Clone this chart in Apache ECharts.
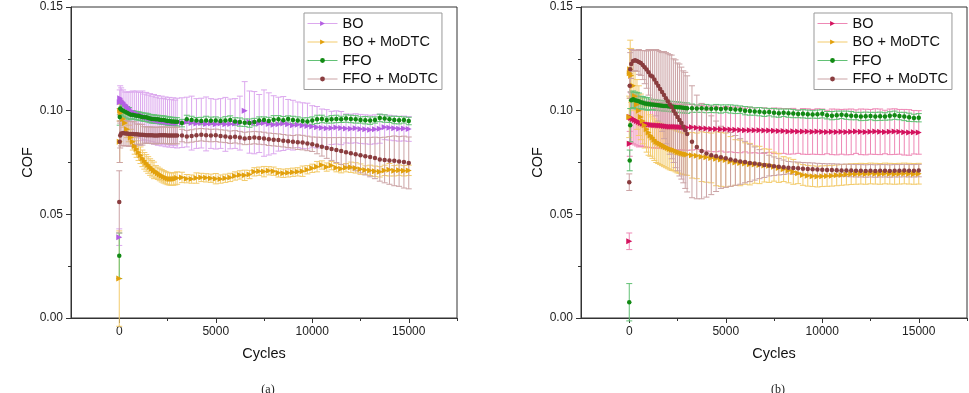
<!DOCTYPE html>
<html>
<head>
<meta charset="utf-8">
<script src="https://cdn.jsdelivr.net/npm/echarts@6/dist/echarts.min.js"></script>
<style>
  html, body { margin: 0; padding: 0; background: #fff; }
  #chart { width: 969px; height: 393px; }
</style>
</head>
<body>
<div id="chart"></div>
<script>
// 横轴：循环次数
const cycles = [
  0, 25, 50, 100, 200, 300, 400, 500, 600, 700, 800, 900, 1000,
  1100, 1200, 1300, 1400, 1500, 1600, 1700, 1800, 1900, 2000,
  2100, 2200, 2300, 2400, 2500, 2600, 2700, 2800, 2900, 3000,
  3250, 3500, 3750, 4000, 4250, 4500, 4750, 5000, 5250, 5500, 5750, 6000,
  6250, 6500, 6750, 7000, 7250, 7500, 7750, 8000, 8250, 8500, 8750, 9000,
  9250, 9500, 9750, 10000, 10250, 10500, 10750, 11000, 11250, 11500, 11750, 12000,
  12250, 12500, 12750, 13000, 13250, 13500, 13750, 14000, 14250, 14500, 14750, 15000
]
const xTickLabels = [0, 5000, 10000, 15000]
const xMinorTicks = [2500, 7500, 12500, 17500]
const seriesNames = ['BO', 'BO + MoDTC', 'FFO', 'FFO + MoDTC']

// (a) 图
const aBO = [
  .039, .104, .106, .105, .104, .103, .102, .101, .100, .0995, .099, .0985, .098,
  .0978, .0975, .097, .0968, .0965, .0962, .096, .0958, .0955, .0953,
  .095, .095, .0948, .0946, .0945, .0944, .0943, .0942, .0941, .094,
  .0942, .0945, .0940, .0938, .0940, .0936, .0938, .0935, .0938, .0934, .0936, .0938,
  .0940, .1000, .0945, .0942, .0938, .0940, .0936, .0932, .0935, .0938, .0934, .0930,
  .0932, .0928, .0926, .0924, .0920, .0918, .0915, .0917, .0919, .0916, .0914, .0913,
  .0915, .0912, .0910, .0908, .0910, .0913, .0920, .0918, .0915, .0913, .0914, .0912
]
const aBOErr = [
  .004, .006, .006, .006, .006, .006, .007, .008, .009, .010, .010, .011, .011,
  .011, .012, .011, .012, .011, .012, .011, .012, .011, .012,
  .011, .012, .011, .012, .011, .012, .011, .012, .011, .012,
  .012, .012, .013, .012, .012, .013, .012, .012, .012, .013, .012, .012,
  .013, .014, .015, .015, .014, .016, .015, .014, .013, .013, .012, .012,
  .011, .011, .011, .010, .010, .009, .009, .008, .008, .008, .007, .007,
  .007, .007, .007, .007, .007, .007, .006, .006, .006, .006, .006, .006
]
const aBOM = [
  .019, .085, .100, .099, .096, .094, .091, .089, .087, .085, .083, .0815, .080,
  .0785, .077, .0758, .0748, .0738, .0728, .072, .0712, .0705, .0698,
  .0692, .0686, .0681, .0677, .0673, .0671, .0670, .0670, .0672, .0675,
  .0678, .0672, .0670, .0675, .0678, .0676, .0674, .0672, .0670, .0674, .0678, .0685,
  .0690, .0688, .0692, .0705, .0708, .0706, .0710, .0708, .0700, .0698, .0700, .0703,
  .0705, .0708, .0715, .0722, .0730, .0738, .0728, .0735, .0725, .0720, .0725, .0727,
  .0724, .0718, .0714, .0712, .0708, .0705, .0712, .0715, .0710, .0713, .0710, .0712
]
const aBOMErr = [
  .023, .010, .005, .004, .004, .004, .004, .004, .004, .004, .004, .004, .004,
  .004, .004, .004, .004, .004, .004, .004, .004, .003, .003,
  .003, .003, .003, .003, .003, .003, .003, .003, .003, .003,
  .0025, .002, .002, .0025, .002, .002, .002, .0025, .002, .002, .002, .002,
  .002, .0025, .002, .002, .002, .0025, .002, .002, .002, .002, .002, .002,
  .002, .0025, .002, .002, .0025, .002, .002, .002, .002, .002, .002, .0025,
  .0025, .0025, .002, .0025, .0025, .0025, .0025, .003, .0025, .0025, .0025, .0025
]
const aFFO = [
  .030, .097, .101, .1005, .100, .0995, .099, .0985, .098, .098, .0978, .0975, .0975,
  .0972, .097, .0968, .0968, .0965, .0962, .096, .096, .0958, .0958,
  .0956, .0955, .0955, .0953, .095, .095, .0948, .0948, .0947, .0946,
  .0940, .0958, .0955, .0952, .0950, .0953, .0951, .0952, .0950, .0953, .0955, .0948,
  .0945, .0942, .0940, .0945, .0952, .0955, .0950, .0956, .0958, .0954, .0960, .0955,
  .0952, .0950, .0948, .0952, .0958, .0960, .0955, .0958, .0960, .0958, .0962, .0960,
  .0958, .0955, .0954, .0952, .0955, .0965, .0962, .0958, .0955, .0954, .0955, .0950
]
const aFFOErr = [
  .011, .004, .003, .003, .003, .003, .003, .003, .002, .002, .002, .002, .002,
  .002, .002, .002, .002, .002, .002, .002, .002, .002, .002,
  .002, .002, .002, .002, .002, .002, .002, .002, .002, .002,
  .0018, .002, .0018, .0015, .0018, .002, .0018, .0018, .0015, .0018, .002, .0018,
  .002, .0018, .002, .0018, .0018, .0015, .0018, .002, .0018, .0018, .0015, .0018,
  .0018, .0015, .0018, .0018, .002, .0018, .0015, .0018, .0018, .0015, .0018, .0018,
  .0018, .0015, .0018, .0018, .0015, .0018, .0018, .0015, .0018, .0018, .0015, .0018
]
const aFFOM = [
  .056, .085, .088, .089, .0892, .0890, .0890, .0888, .0888, .0887, .0886, .0886, .0885,
  .0884, .0884, .0883, .0882, .0882, .0882, .0881, .0880, .0880, .0880,
  .0881, .0882, .0882, .0881, .0880, .0880, .0880, .0880, .0880, .0880,
  .0880, .0875, .0878, .0882, .0884, .0882, .0880, .0881, .0878, .0876, .0872, .0874,
  .0870, .0866, .0868, .0870, .0868, .0866, .0862, .0860, .0858, .0855, .0852, .0850,
  .0848, .0846, .0842, .0838, .0832, .0826, .0820, .0815, .0810, .0806, .0800, .0795,
  .0790, .0785, .0780, .0776, .0772, .0765, .0762, .0760, .0758, .0755, .0752, .0748
]
const aFFOMErr = [
  .015, .010, .006, .006, .006, .006, .006, .006, .006, .006, .006, .005, .005,
  .005, .005, .004, .004, .004, .004, .004, .004, .004, .004,
  .004, .004, .004, .004, .004, .004, .004, .004, .004, .004,
  .003, .003, .003, .003, .003, .003, .003, .003, .003, .003, .003, .003,
  .003, .003, .003, .003, .003, .003, .003, .003, .003, .003, .003, .003,
  .0035, .0035, .0035, .0035, .004, .0045, .005, .0055, .006, .0065, .007, .0075,
  .008, .0085, .009, .0095, .010, .0105, .011, .0115, .012, .012, .0125, .0125
]

// (b) 图
const bBO = [
  .037, .084, .097, .0965, .096, .0955, .095, .0945, .094, .0937, .0935, .0934, .0933,
  .0932, .0931, .093, .093, .0929, .0928, .0927, .0926, .0925, .0924,
  .0923, .0923, .0922, .0922, .0921, .0921, .092, .092, .0919, .0919,
  .0920, .0918, .0915, .0914, .0912, .0912, .0910, .0910, .0909, .0908, .0907, .0906,
  .0906, .0905, .0905, .0904, .0904, .0903, .0902, .0902, .0900, .0901, .0899, .0900,
  .0899, .0898, .0899, .0898, .0897, .0898, .0897, .0898, .0897, .0898, .0899, .0898,
  .0897, .0898, .0899, .0898, .0897, .0898, .0899, .0898, .0896, .0895, .0896, .0895
]
const bBOErr = [
  .004, .006, .012, .012, .012, .012, .012, .012, .011, .011, .011, .011, .011,
  .011, .011, .011, .011, .011, .011, .011, .011, .011, .011,
  .011, .011, .011, .011, .011, .011, .011, .011, .011, .011,
  .011, .0105, .011, .0108, .011, .011, .0105, .011, .0108, .011, .011, .0105,
  .011, .0108, .011, .011, .0105, .011, .011, .0108, .011, .011, .0105, .011,
  .011, .0108, .011, .011, .0105, .011, .011, .0108, .011, .011, .0105, .011,
  .011, .0108, .011, .011, .0105, .011, .011, .0108, .011, .011, .0105, .0105
]
const bBOM = [
  .097, .118, .120, .117, .112, .107, .103, .100, .097, .095, .093, .091, .0895,
  .088, .087, .086, .085, .0845, .084, .0835, .083, .0825, .082,
  .0815, .0812, .081, .0805, .080, .0798, .0795, .0792, .079, .0788,
  .0785, .0782, .0778, .0775, .0772, .0768, .0765, .0762, .0755, .0750, .0748, .0745,
  .0742, .0740, .0738, .0736, .0734, .0730, .0724, .0718, .0712, .0705, .0698, .0690,
  .0686, .0684, .0682, .0684, .0685, .0686, .0688, .0690, .0692, .0694, .0695, .0696,
  .0695, .0697, .0696, .0695, .0697, .0696, .0695, .0696, .0697, .0696, .0695, .0696
]
const bBOMErr = [
  .010, .012, .014, .013, .012, .012, .012, .012, .011, .011, .011, .011, .011,
  .010, .010, .010, .010, .010, .010, .010, .010, .010, .010,
  .010, .010, .010, .010, .010, .010, .010, .010, .010, .010,
  .011, .011, .012, .012, .012, .013, .013, .013, .012, .011, .011, .010,
  .010, .009, .009, .008, .008, .007, .007, .006, .006, .006, .005, .005,
  .005, .005, .005, .005, .005, .005, .005, .005, .005, .005, .005, .005,
  .005, .005, .005, .005, .005, .005, .005, .005, .005, .005, .005, .005
]
const bFFO = [
  .0076, .076, .093, .105, .1055, .105, .1048, .1045, .104, .1038, .1035, .1033, .1032,
  .103, .103, .1028, .1027, .1026, .1025, .1024, .1023, .1022, .1021,
  .102, .102, .1019, .1018, .1017, .1016, .1015, .1014, .1013, .1012,
  .1012, .1010, .1012, .1010, .1009, .1010, .1008, .1010, .1008, .1006, .1005, .1000,
  .0998, .0996, .0995, .0992, .0993, .0990, .0988, .0990, .0988, .0986, .0984, .0985,
  .0983, .0982, .0983, .0985, .0978, .0976, .0978, .0980, .0978, .0976, .0974, .0972,
  .0973, .0974, .0972, .0973, .0972, .0975, .0978, .0974, .0972, .0968, .0965, .0966
]
const bFFOErr = [
  .009, .005, .008, .004, .004, .004, .004, .004, .003, .003, .003, .003, .003,
  .0025, .0025, .0025, .0025, .0025, .0025, .0025, .0025, .0025, .0025,
  .0025, .0025, .0025, .0025, .0025, .0025, .0025, .0025, .0025, .0025,
  .002, .0018, .002, .002, .0018, .002, .002, .0018, .002, .002, .0018, .002,
  .002, .0018, .002, .002, .0018, .002, .002, .0018, .002, .002, .0018, .002,
  .002, .0018, .002, .002, .0018, .002, .002, .0018, .002, .002, .0018, .002,
  .002, .0018, .002, .002, .0018, .002, .002, .0018, .002, .002, .0018, .002
]
const bFFOM = [
  .0655, .112, .120, .1225, .124, .1243, .124, .1235, .123, .122, .121, .1198, .1185,
  .117, .1165, .115, .1135, .112, .1105, .109, .1075, .106, .1045,
  .103, .1018, .100, .0985, .097, .0955, .094, .0922, .0905, .0888,
  .0850, .0825, .0805, .0793, .0785, .0780, .0775, .0770, .0765, .0760, .0755, .0752,
  .0748, .0745, .0742, .0738, .0735, .0732, .0730, .0727, .0725, .0723, .0722, .0720,
  .0719, .0718, .0716, .0715, .0714, .0714, .0713, .0712, .0712, .0711, .0710, .0710,
  .0709, .0710, .0709, .0710, .0710, .0709, .0710, .0710, .0711, .0710, .0710, .0711
]
const bFFOMErr = [
  .004, .006, .008, .007, .005, .005, .005, .006, .006, .007, .008, .009, .011,
  .012, .013, .014, .016, .017, .018, .019, .021, .022, .023,
  .024, .025, .025, .026, .026, .027, .027, .027, .028, .028,
  .027, .025, .023, .021, .019, .017, .015, .014, .013, .012, .011, .010,
  .009, .008, .007, .006, .005, .0045, .004, .0035, .003, .003, .003, .003,
  .003, .003, .003, .003, .003, .003, .003, .003, .003, .003, .003, .003,
  .003, .003, .003, .003, .003, .003, .003, .003, .003, .003, .003, .003
]

const FONT = 'Liberation Sans'
const AXIS_COLOR = '#333'

// 误差棒（带帽）
const errorRender = (color) => (params, api) => {
  const x = api.value(0)
  const lo = api.coord([x, api.value(1)])
  const hi = api.coord([x, api.value(2)])
  const w = 3
  const style = { stroke: color, lineWidth: 1 }
  return {
    type: 'group',
    children: [
      { type: 'line', shape: { x1: hi[0], y1: hi[1], x2: lo[0], y2: lo[1] }, style },
      { type: 'line', shape: { x1: hi[0] - w, y1: hi[1], x2: hi[0] + w, y2: hi[1] }, style },
      { type: 'line', shape: { x1: lo[0] - w, y1: lo[1], x2: lo[0] + w, y2: lo[1] }, style }
    ]
  }
}

const errorSeries = (vals, errs, color, xIdx, yIdx) => ({
  type: 'custom',
  xAxisIndex: xIdx,
  yAxisIndex: yIdx,
  z: 1,
  silent: true,
  renderItem: errorRender(color),
  encode: { x: 0, y: [1, 2] },
  data: cycles.map((c, i) => [c, vals[i] - errs[i], vals[i] + errs[i]])
})

// 点标记，连线隐藏（图例里仍显示线）
const markerSeries = (name, vals, color, lineColor, symbol, xIdx, yIdx) => ({
  name,
  type: 'line',
  xAxisIndex: xIdx,
  yAxisIndex: yIdx,
  z: 2,
  symbol,
  symbolSize: symbol === 'circle' ? 4.5 : 6,
  symbolRotate: symbol === 'triangle' ? -90 : 0,
  showAllSymbol: true,
  itemStyle: { color, borderWidth: 0 },
  lineStyle: { color: lineColor, width: 1, opacity: 0 },
  data: cycles.map((c, i) => [c, vals[i]])
})

const makeXAxes = (gridIndex) => [
  {
    gridIndex,
    type: 'value',
    position: 'bottom',
    min: -2500,
    max: 17500,
    interval: 2500,
    name: 'Cycles',
    nameLocation: 'middle',
    nameGap: 28,
    nameTextStyle: { fontFamily: FONT, fontSize: 14.5, color: '#111' },
    axisLine: { onZero: false, lineStyle: { color: AXIS_COLOR, width: 1 } },
    axisTick: { length: 5, customValues: xTickLabels, lineStyle: { color: AXIS_COLOR } },
    axisLabel: {
      customValues: xTickLabels,
      margin: 8,
      fontFamily: FONT,
      fontSize: 12,
      color: '#222',
      formatter: (v) => (v >= 0 && v % 5000 === 0 ? String(v) : '')
    },
    splitLine: { show: false }
  },
  {
    gridIndex,
    type: 'value',
    position: 'bottom',
    min: -2500,
    max: 17500,
    interval: 2500,
    axisLine: { show: false, onZero: false },
    axisTick: { length: 3, customValues: xMinorTicks, lineStyle: { color: AXIS_COLOR } },
    axisLabel: { show: false },
    splitLine: { show: false }
  }
]

const makeYAxis = (gridIndex) => ({
  gridIndex,
  type: 'value',
  position: 'left',
  min: 0,
  max: 0.15,
  interval: 0.05,
  name: 'COF',
  nameLocation: 'middle',
  nameGap: 36,
  nameRotate: 90,
  nameTextStyle: { fontFamily: FONT, fontSize: 14.5, color: '#111' },
  axisLine: { show: true, onZero: false, lineStyle: { color: AXIS_COLOR, width: 1 } },
  axisTick: { show: true, length: 5, lineStyle: { color: AXIS_COLOR } },
  minorTick: { show: true, splitNumber: 2, length: 3, lineStyle: { color: AXIS_COLOR } },
  axisLabel: { margin: 8, fontFamily: FONT, fontSize: 12, color: '#222', formatter: (v) => v.toFixed(2) },
  splitLine: { show: false },
  minorSplitLine: { show: false }
})

const makeLegend = (left, names) => ({
  left,
  top: 13,
  orient: 'vertical',
  data: names,
  padding: [3, 4, 3, 3],
  itemWidth: 30,
  itemHeight: 6,
  itemGap: 3.5,
  borderColor: '#999',
  borderWidth: 1,
  lineStyle: { opacity: 1, width: 1 },
  textStyle: { fontFamily: FONT, fontSize: 14.5, color: '#111' },
  formatter: (name) => name.trim()
})

// (b) 图系列名加空格以区分图例
const namesB = seriesNames.map((n) => n + ' ')

const colorsA = {
  bo: ['#B45EE2', '#DCA8EE'],
  bom: ['#E2A00C', '#F3CB6C'],
  ffo: ['#128A14', '#62C175'],
  ffom: ['#8A3D3F', '#CBA3A5']
}
const colorsB = {
  bo: ['#D4125E', '#EE88B5'],
  bom: ['#E2A00C', '#F3CB6C'],
  ffo: ['#128A14', '#62C175'],
  ffom: ['#8A3D3F', '#CBA3A5']
}

const chart = echarts.init(document.getElementById('chart'), null, { renderer: 'canvas' })
chart.setOption({
  animation: false,
  backgroundColor: '#fff',
  title: [
    { text: '(a)', left: 263, top: 379, textAlign: 'center', textStyle: { fontFamily: 'Liberation Serif', fontSize: 12, fontWeight: 'normal', color: '#222' } },
    { text: '(b)', left: 773, top: 379, textAlign: 'center', textStyle: { fontFamily: 'Liberation Serif', fontSize: 12, fontWeight: 'normal', color: '#222' } }
  ],
  legend: [makeLegend(304, seriesNames), makeLegend(814, namesB)],
  grid: [
    { left: 71, top: 7, width: 386, height: 311, show: true, borderColor: AXIS_COLOR, borderWidth: 1, backgroundColor: 'transparent' },
    { left: 581, top: 7, width: 386, height: 311, show: true, borderColor: AXIS_COLOR, borderWidth: 1, backgroundColor: 'transparent' }
  ],
  xAxis: [...makeXAxes(0), ...makeXAxes(1)],
  yAxis: [makeYAxis(0), makeYAxis(1)],
  series: [
    errorSeries(aBO, aBOErr, colorsA.bo[1], 0, 0),
    errorSeries(aBOM, aBOMErr, colorsA.bom[1], 0, 0),
    errorSeries(aFFO, aFFOErr, colorsA.ffo[1], 0, 0),
    errorSeries(aFFOM, aFFOMErr, colorsA.ffom[1], 0, 0),
    markerSeries(seriesNames[0], aBO, colorsA.bo[0], colorsA.bo[1], 'triangle', 0, 0),
    markerSeries(seriesNames[1], aBOM, colorsA.bom[0], colorsA.bom[1], 'triangle', 0, 0),
    markerSeries(seriesNames[2], aFFO, colorsA.ffo[0], colorsA.ffo[1], 'circle', 0, 0),
    markerSeries(seriesNames[3], aFFOM, colorsA.ffom[0], colorsA.ffom[1], 'circle', 0, 0),
    errorSeries(bBO, bBOErr, colorsB.bo[1], 2, 1),
    errorSeries(bBOM, bBOMErr, colorsB.bom[1], 2, 1),
    errorSeries(bFFO, bFFOErr, colorsB.ffo[1], 2, 1),
    errorSeries(bFFOM, bFFOMErr, colorsB.ffom[1], 2, 1),
    markerSeries(namesB[0], bBO, colorsB.bo[0], colorsB.bo[1], 'triangle', 2, 1),
    markerSeries(namesB[1], bBOM, colorsB.bom[0], colorsB.bom[1], 'triangle', 2, 1),
    markerSeries(namesB[2], bFFO, colorsB.ffo[0], colorsB.ffo[1], 'circle', 2, 1),
    markerSeries(namesB[3], bFFOM, colorsB.ffom[0], colorsB.ffom[1], 'circle', 2, 1)
  ]
})
</script>
</body>
</html>
